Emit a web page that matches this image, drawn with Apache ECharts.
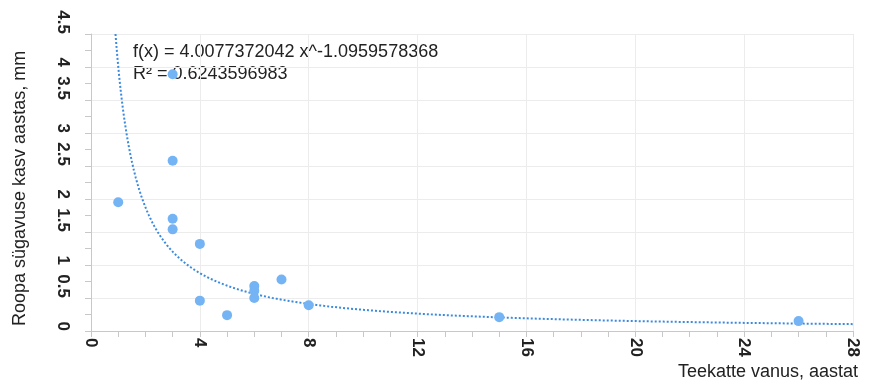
<!DOCTYPE html>
<html>
<head>
<meta charset="utf-8">
<script src="https://cdn.jsdelivr.net/npm/echarts@6/dist/echarts.min.js"></script>
<style>html,body{margin:0;padding:0;background:#fff}#c{width:876px;height:382px}</style>
</head>
<body>
<div id="c"></div>
<script>
// Data
const ageYears = [1, 3, 3, 3, 3, 4, 4, 5, 6, 6, 6, 7, 8, 15, 26];
const rutGrowth = [1.95, 3.89, 2.58, 1.70, 1.54, 1.32, 0.46, 0.24, 0.68, 0.61, 0.50, 0.78, 0.39, 0.21, 0.15];
// Trendline coefficients shown on the chart
const trendA = 4.0077372042;
const trendB = -1.0959578368;
const trendLabel1 = 'f(x) = 4.0077372042 x^-1.0959578368';
const trendLabel2 = 'R² = 0.6243596983';
const xTicks = [0, 4, 8, 12, 16, 20, 24, 28];
const yMax = 4.5;
const xName = 'Teekatte vanus, aastat';
const yName = 'Roopa sügavuse kasv aastas, mm';

const points = ageYears.map((x, i) => [x, rutGrowth[i]]);
const xStart = Math.pow(yMax / trendA, 1 / trendB);
const trend = [];
for (let i = 0; i <= 400; i++) {
  const x = xStart + (xTicks[xTicks.length - 1] - xStart) * i / 400;
  trend.push([x, trendA * Math.pow(x, trendB)]);
}

const chart = echarts.init(document.getElementById('c'), null, {renderer: 'canvas'});
const FF = 'Liberation Sans, Arial, sans-serif';
const labelFont = {fontFamily: FF, fontSize: 17, color: '#222', fontWeight: 'bold'};
chart.setOption({
  animation: false,
  grid: {left: 91, right: 23, top: 34, bottom: 51},
  xAxis: {
    type: 'value', min: 0, max: 28, interval: 4,
    axisLine: {show: true, lineStyle: {color: '#c8c8c8'}},
    axisTick: {show: true, length: 6, lineStyle: {color: '#c8c8c8'}},
    minorTick: {show: true, splitNumber: 4, length: 6, lineStyle: {color: '#c8c8c8'}},
    splitLine: {show: true, lineStyle: {color: '#ececec'}},
    axisLabel: Object.assign({rotate: -90, margin: 7}, labelFont)
  },
  yAxis: {
    type: 'value', min: 0, max: yMax, interval: 0.5,
    axisLine: {show: true, lineStyle: {color: '#c8c8c8'}},
    axisTick: {show: true, length: 6, lineStyle: {color: '#c8c8c8'}},
    minorTick: {show: true, splitNumber: 2, length: 6, lineStyle: {color: '#c8c8c8'}},
    splitLine: {show: true, lineStyle: {color: '#ececec'}},
    axisLabel: Object.assign({rotate: -90, margin: 20, align: 'right', verticalAlign: 'top'}, labelFont)
  },
  graphic: [
    {type: 'text', left: 133, top: 43, style: {text: trendLabel1, font: '18px ' + FF, fill: '#222'}},
    {type: 'text', left: 133, top: 65, style: {text: trendLabel2, font: '18px ' + FF, fill: '#222'}},
    {type: 'text', right: 18, top: 363, style: {text: xName, font: '18px ' + FF, fill: '#222'}},
    {type: 'text', x: 11, y: 326, rotation: Math.PI / 2, style: {text: yName, font: '18px ' + FF, fill: '#222'}}
  ],
  series: [
    {type: 'line', data: trend, showSymbol: false, symbol: 'none', smooth: false, clip: true,
     lineStyle: {type: 'dotted', width: 2, color: '#3a8ae0'}, z: 2},
    {type: 'scatter', data: points, symbolSize: 10, itemStyle: {color: '#74b4f4', opacity: 1}, z: 3}
  ]
});
</script>
</body>
</html>
